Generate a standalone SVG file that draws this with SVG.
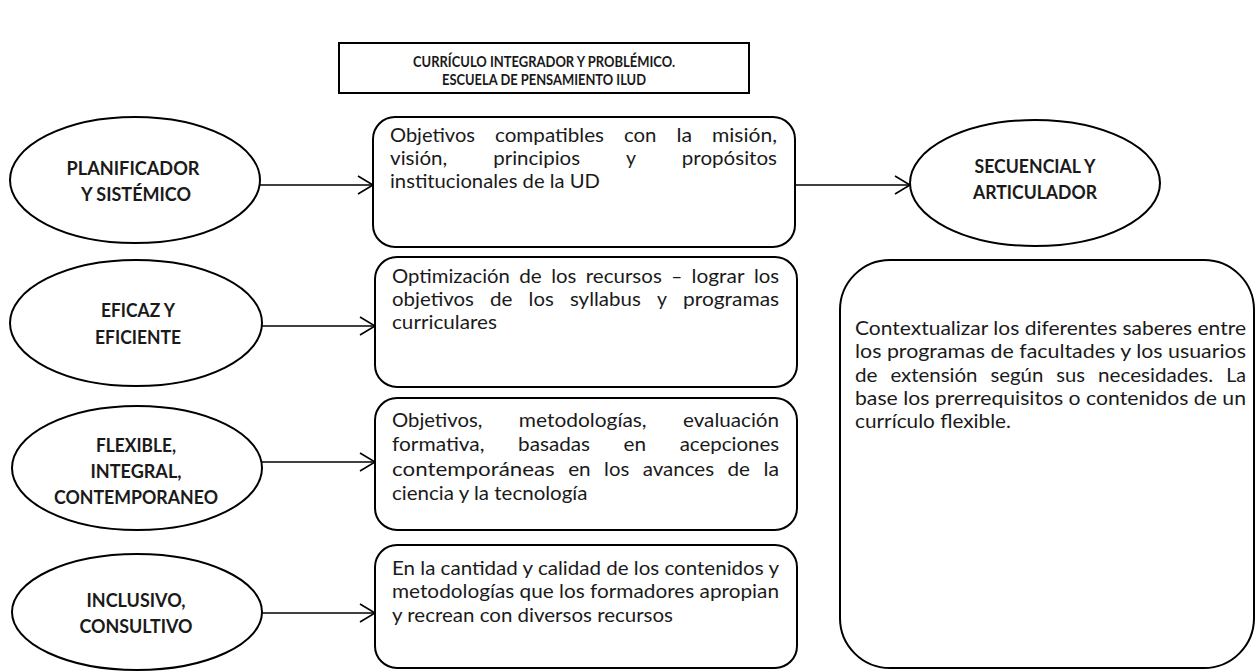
<svg xmlns="http://www.w3.org/2000/svg" width="1257" height="671" viewBox="0 0 1257 671">
<style>
  .shape { fill: #ffffff; stroke: #000000; stroke-width: 2; }
  .lbl { font-family: Lato, "Liberation Sans", sans-serif; font-weight: bold; font-size: 18.5px; fill: #1a1a1a; text-anchor: middle; }
  .ttl { font-family: Lato, "Liberation Sans", sans-serif; font-weight: bold; font-size: 16px; fill: #1a1a1a; text-anchor: middle; }
  .txt { font-family: Lato, "Liberation Sans", sans-serif; font-size: 20px; fill: #1a1a1a; }
  .conn { stroke: #000000; stroke-width: 1.6; fill: none; }
</style>
<defs>
  <marker id="arr" markerUnits="userSpaceOnUse" markerWidth="18" markerHeight="22" refX="16" refY="10" orient="auto">
    <path d="M1,1 L16,10 L1,19" fill="none" stroke="#000000" stroke-width="1.6"/>
  </marker>
</defs>
<rect width="1257" height="671" fill="#ffffff"/>

<g id="title">
  <rect class="shape" x="339" y="43" width="410" height="50" stroke-width="1.6"/>
  <text class="ttl" x="544" y="67" textLength="262" lengthAdjust="spacingAndGlyphs">CURRÍCULO INTEGRADOR Y PROBLÉMICO.</text>
  <text class="ttl" x="544" y="85" textLength="204" lengthAdjust="spacingAndGlyphs">ESCUELA DE PENSAMIENTO ILUD</text>
</g>

<g id="connectors">
  <line class="conn" x1="260" y1="185" x2="373" y2="185" marker-end="url(#arr)"/>
  <line class="conn" x1="262" y1="326" x2="375" y2="326" marker-end="url(#arr)"/>
  <line class="conn" x1="262" y1="462" x2="375" y2="462" marker-end="url(#arr)"/>
  <line class="conn" x1="262" y1="613" x2="375" y2="613" marker-end="url(#arr)"/>
  <line class="conn" x1="795" y1="185" x2="910" y2="185" marker-end="url(#arr)"/>
</g>

<g id="planificador">
  <ellipse class="shape" cx="135" cy="180" rx="125" ry="63"/>
  <text class="lbl" x="133" y="175" textLength="133" lengthAdjust="spacingAndGlyphs">PLANIFICADOR</text>
  <text class="lbl" x="136" y="201" textLength="110" lengthAdjust="spacingAndGlyphs">Y SISTÉMICO</text>
</g>

<g id="eficaz">
  <ellipse class="shape" cx="136" cy="323" rx="126" ry="63"/>
  <text class="lbl" x="138" y="317" textLength="74" lengthAdjust="spacingAndGlyphs">EFICAZ Y</text>
  <text class="lbl" x="138" y="344" textLength="86" lengthAdjust="spacingAndGlyphs">EFICIENTE</text>
</g>

<g id="flexible">
  <ellipse class="shape" cx="137" cy="468" rx="125" ry="62"/>
  <text class="lbl" x="136" y="452" textLength="80" lengthAdjust="spacingAndGlyphs">FLEXIBLE,</text>
  <text class="lbl" x="136" y="478" textLength="91" lengthAdjust="spacingAndGlyphs">INTEGRAL,</text>
  <text class="lbl" x="136" y="504" textLength="164" lengthAdjust="spacingAndGlyphs">CONTEMPORANEO</text>
</g>

<g id="inclusivo">
  <ellipse class="shape" cx="137" cy="612" rx="125" ry="58"/>
  <text class="lbl" x="136" y="607" textLength="99" lengthAdjust="spacingAndGlyphs">INCLUSIVO,</text>
  <text class="lbl" x="136" y="633" textLength="113" lengthAdjust="spacingAndGlyphs">CONSULTIVO</text>
</g>

<g id="secuencial">
  <ellipse class="shape" cx="1035" cy="183" rx="125" ry="63"/>
  <text class="lbl" x="1035" y="173" textLength="121" lengthAdjust="spacingAndGlyphs">SECUENCIAL Y</text>
  <text class="lbl" x="1035" y="199" textLength="124" lengthAdjust="spacingAndGlyphs">ARTICULADOR</text>
</g>

<g id="box-objetivos">
  <rect class="shape" x="373" y="117" width="422" height="130" rx="22"/>
  <text class="txt" x="390" y="142" textLength="85" lengthAdjust="spacingAndGlyphs">Objetivos</text>
  <text class="txt" x="495" y="142" textLength="109" lengthAdjust="spacingAndGlyphs">compatibles</text>
  <text class="txt" x="624" y="142" textLength="32.5" lengthAdjust="spacingAndGlyphs">con</text>
  <text class="txt" x="676.5" y="142" textLength="15.6" lengthAdjust="spacingAndGlyphs">la</text>
  <text class="txt" x="712" y="142" textLength="65" lengthAdjust="spacingAndGlyphs">misión,</text>
  <text class="txt" x="390" y="165" textLength="57.3" lengthAdjust="spacingAndGlyphs">visión,</text>
  <text class="txt" x="493.2" y="165" textLength="86.9" lengthAdjust="spacingAndGlyphs">principios</text>
  <text class="txt" x="626" y="165" textLength="10" lengthAdjust="spacingAndGlyphs">y</text>
  <text class="txt" x="681.8" y="165" textLength="95.2" lengthAdjust="spacingAndGlyphs">propósitos</text>
  <text class="txt" x="390" y="188" textLength="210" lengthAdjust="spacingAndGlyphs">institucionales de la UD</text>
</g>

<g id="box-optimizacion">
  <rect class="shape" x="375" y="257" width="422" height="130" rx="22"/>
  <text class="txt" x="392" y="283" textLength="117.9" lengthAdjust="spacingAndGlyphs">Optimización</text>
  <text class="txt" x="519.3" y="283" textLength="22.5" lengthAdjust="spacingAndGlyphs">de</text>
  <text class="txt" x="551.2" y="283" textLength="25.2" lengthAdjust="spacingAndGlyphs">los</text>
  <text class="txt" x="585.8" y="283" textLength="76" lengthAdjust="spacingAndGlyphs">recursos</text>
  <text class="txt" x="671.2" y="283" textLength="11" lengthAdjust="spacingAndGlyphs">–</text>
  <text class="txt" x="691.6" y="283" textLength="52.9" lengthAdjust="spacingAndGlyphs">lograr</text>
  <text class="txt" x="753.9" y="283" textLength="25.2" lengthAdjust="spacingAndGlyphs">los</text>
  <text class="txt" x="392" y="306" textLength="81.9" lengthAdjust="spacingAndGlyphs">objetivos</text>
  <text class="txt" x="490" y="306" textLength="22.5" lengthAdjust="spacingAndGlyphs">de</text>
  <text class="txt" x="528.6" y="306" textLength="25.2" lengthAdjust="spacingAndGlyphs">los</text>
  <text class="txt" x="569.9" y="306" textLength="70.9" lengthAdjust="spacingAndGlyphs">syllabus</text>
  <text class="txt" x="656.9" y="306" textLength="10" lengthAdjust="spacingAndGlyphs">y</text>
  <text class="txt" x="683" y="306" textLength="96.1" lengthAdjust="spacingAndGlyphs">programas</text>
  <text class="txt" x="392" y="329" textLength="104.9" lengthAdjust="spacingAndGlyphs">curriculares</text>
</g>

<g id="box-metodologias">
  <rect class="shape" x="375" y="398" width="422" height="132" rx="22"/>
  <text class="txt" x="392" y="427" textLength="90.4" lengthAdjust="spacingAndGlyphs">Objetivos,</text>
  <text class="txt" x="518.8" y="427" textLength="127.8" lengthAdjust="spacingAndGlyphs">metodologías,</text>
  <text class="txt" x="683" y="427" textLength="96.1" lengthAdjust="spacingAndGlyphs">evaluación</text>
  <text class="txt" x="392" y="451" textLength="92.5" lengthAdjust="spacingAndGlyphs">formativa,</text>
  <text class="txt" x="518.1" y="451" textLength="71.9" lengthAdjust="spacingAndGlyphs">basadas</text>
  <text class="txt" x="623.6" y="451" textLength="22.5" lengthAdjust="spacingAndGlyphs">en</text>
  <text class="txt" x="679.7" y="451" textLength="99.4" lengthAdjust="spacingAndGlyphs">acepciones</text>
  <text class="txt" x="392" y="476" textLength="162.8" lengthAdjust="spacingAndGlyphs">contemporáneas</text>
  <text class="txt" x="568.2" y="476" textLength="22.5" lengthAdjust="spacingAndGlyphs">en</text>
  <text class="txt" x="604.1" y="476" textLength="25.2" lengthAdjust="spacingAndGlyphs">los</text>
  <text class="txt" x="642.7" y="476" textLength="71.4" lengthAdjust="spacingAndGlyphs">avances</text>
  <text class="txt" x="727.5" y="476" textLength="22.5" lengthAdjust="spacingAndGlyphs">de</text>
  <text class="txt" x="763.4" y="476" textLength="15.6" lengthAdjust="spacingAndGlyphs">la</text>
  <text class="txt" x="392" y="500" textLength="195.5" lengthAdjust="spacingAndGlyphs">ciencia y la tecnología</text>
</g>

<g id="box-contenidos">
  <rect class="shape" x="375" y="545" width="422" height="123" rx="22"/>
  <text class="txt" x="392" y="575" textLength="387" lengthAdjust="spacingAndGlyphs">En la cantidad y calidad de los contenidos y</text>
  <text class="txt" x="392" y="598" textLength="387" lengthAdjust="spacingAndGlyphs">metodologías que los formadores apropian</text>
  <text class="txt" x="392" y="622" textLength="281" lengthAdjust="spacingAndGlyphs">y recrean con diversos recursos</text>
</g>

<g id="box-contextualizar">
  <rect class="shape" x="840" y="260" width="414" height="408" rx="50"/>
  <text class="txt" x="855" y="335" textLength="391" lengthAdjust="spacingAndGlyphs">Contextualizar los diferentes saberes entre</text>
  <text class="txt" x="855" y="358" textLength="391" lengthAdjust="spacingAndGlyphs">los programas de facultades y los usuarios</text>
  <text class="txt" x="855" y="382" textLength="22.5" lengthAdjust="spacingAndGlyphs">de</text>
  <text class="txt" x="890.4" y="382" textLength="87.1" lengthAdjust="spacingAndGlyphs">extensión</text>
  <text class="txt" x="990.4" y="382" textLength="53" lengthAdjust="spacingAndGlyphs">según</text>
  <text class="txt" x="1056.3" y="382" textLength="28.8" lengthAdjust="spacingAndGlyphs">sus</text>
  <text class="txt" x="1098" y="382" textLength="115.1" lengthAdjust="spacingAndGlyphs">necesidades.</text>
  <text class="txt" x="1226.2" y="382" textLength="19.8" lengthAdjust="spacingAndGlyphs">La</text>
  <text class="txt" x="855" y="405" textLength="391" lengthAdjust="spacingAndGlyphs">base los prerrequisitos o contenidos de un</text>
  <text class="txt" x="855" y="428" textLength="156" lengthAdjust="spacingAndGlyphs">currículo flexible.</text>
</g>
</svg>
